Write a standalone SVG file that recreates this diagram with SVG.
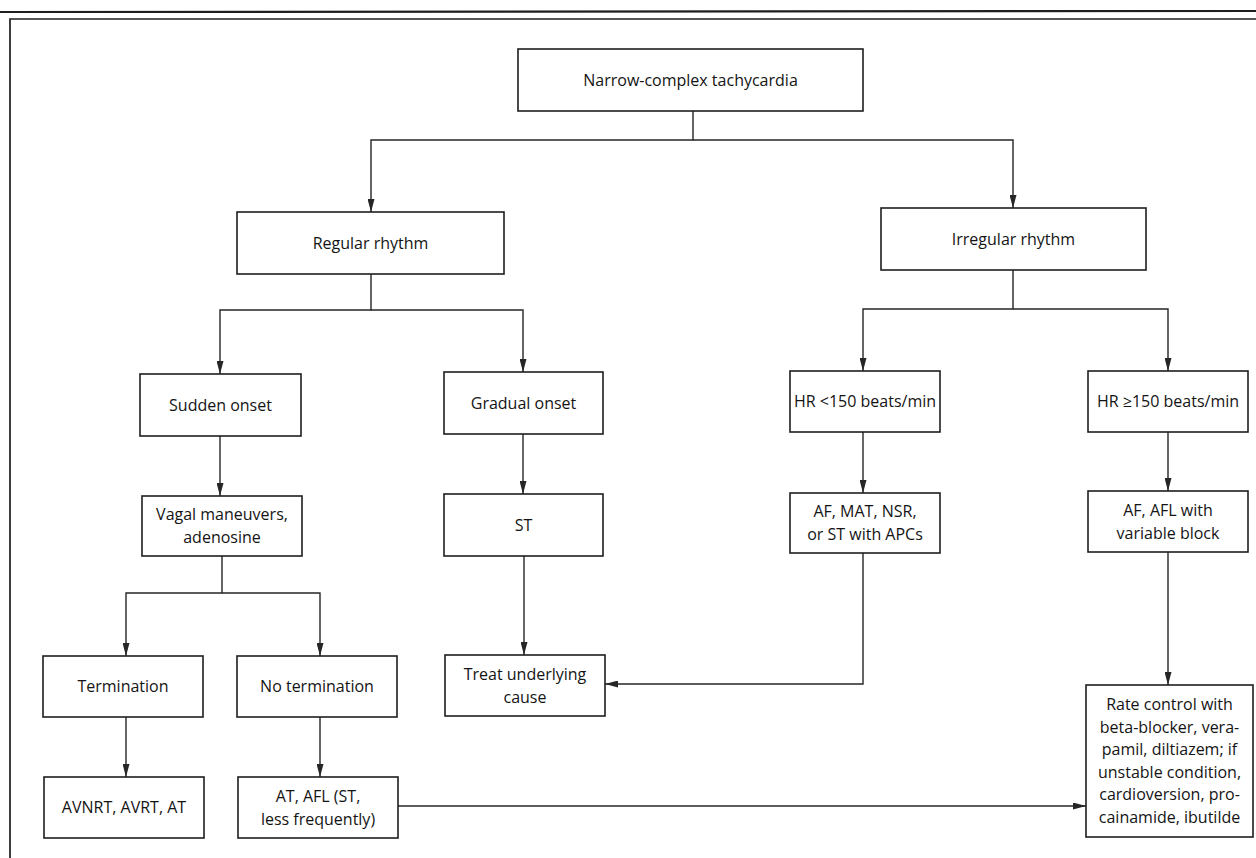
<svg xmlns="http://www.w3.org/2000/svg" width="1256" height="858" viewBox="0 0 1256 858">
<defs>
<style>
.box{fill:#fff;stroke:#1e1e1e;stroke-width:1.6}
.t{font-family:"Open Sans","Noto Sans",sans-serif;font-size:16px;fill:#141414;text-anchor:middle}
.c{fill:none;stroke:#262626;stroke-width:1.4}
.frame{fill:none;stroke:#1e1e1e;stroke-width:1.7}
</style>
<marker id="ah" markerUnits="userSpaceOnUse" markerWidth="13" markerHeight="7" refX="13" refY="3.5" orient="auto" viewBox="0 0 13 7">
<path d="M0,0 L13,3.5 L0,7 z" fill="#262626"/>
</marker>
</defs>
<rect width="1256" height="858" fill="#fff"/>
<line x1="0" y1="12" x2="1256" y2="11" stroke="#1e1e1e" stroke-width="2.2"/>
<path class="frame" d="M10,860 V19 H1258"/>

<g id="connectors">
<path class="c" d="M693,111 V140 H371 V212" marker-end="url(#ah)"/>
<path class="c" d="M693,140 H1013 V208" marker-end="url(#ah)"/>
<path class="c" d="M371,274 V310 H220 V374" marker-end="url(#ah)"/>
<path class="c" d="M371,310 H523 V372" marker-end="url(#ah)"/>
<path class="c" d="M1013,270 V309 H863 V371" marker-end="url(#ah)"/>
<path class="c" d="M1013,309 H1168 V371" marker-end="url(#ah)"/>
<path class="c" d="M220,436 V496" marker-end="url(#ah)"/>
<path class="c" d="M523,434 V494" marker-end="url(#ah)"/>
<path class="c" d="M863,432 V493" marker-end="url(#ah)"/>
<path class="c" d="M1168,432 V491" marker-end="url(#ah)"/>
<path class="c" d="M222,556 V593 H126 V656" marker-end="url(#ah)"/>
<path class="c" d="M222,593 H320 V656" marker-end="url(#ah)"/>
<path class="c" d="M524,556 V655" marker-end="url(#ah)"/>
<path class="c" d="M863,553 V684 H605" marker-end="url(#ah)"/>
<path class="c" d="M1168,552 V685" marker-end="url(#ah)"/>
<path class="c" d="M126,717 V777" marker-end="url(#ah)"/>
<path class="c" d="M320,717 V777" marker-end="url(#ah)"/>
<path class="c" d="M398,806 H1086" marker-end="url(#ah)"/>
</g>

<g id="narrow"><rect class="box" x="518" y="49" width="345" height="62"/><text class="t" x="690.5" y="85.5">Narrow-complex tachycardia</text></g>
<g id="regular"><rect class="box" x="237" y="212" width="267" height="62"/><text class="t" x="370.5" y="248.5">Regular rhythm</text></g>
<g id="irregular"><rect class="box" x="881" y="208" width="265" height="62"/><text class="t" x="1013.5" y="244.5">Irregular rhythm</text></g>

<g id="sudden"><rect class="box" x="140" y="374" width="161" height="62"/><text class="t" x="220.5" y="410.5">Sudden onset</text></g>
<g id="gradual"><rect class="box" x="444" y="372" width="159" height="62"/><text class="t" x="523.5" y="408.5">Gradual onset</text></g>
<g id="hrlow"><rect class="box" x="790" y="371" width="150" height="61"/><text class="t" x="865" y="407">HR &lt;150 beats/min</text></g>
<g id="hrhigh"><rect class="box" x="1088" y="371" width="160" height="61"/><text class="t" x="1168" y="407">HR ≥150 beats/min</text></g>

<g id="vagal"><rect class="box" x="142" y="496" width="160" height="60"/><text class="t" x="222" y="520">Vagal maneuvers,</text><text class="t" x="222" y="543">adenosine</text></g>
<g id="st"><rect class="box" x="444" y="494" width="159" height="62"/><text class="t" x="523.5" y="530.5">ST</text></g>
<g id="afmat"><rect class="box" x="790" y="493" width="150" height="60"/><text class="t" x="865" y="517">AF, MAT, NSR,</text><text class="t" x="865" y="540">or ST with APCs</text></g>
<g id="afafl"><rect class="box" x="1088" y="491" width="160" height="61"/><text class="t" x="1168" y="515.5">AF, AFL with</text><text class="t" x="1168" y="538.5">variable block</text></g>

<g id="termination"><rect class="box" x="43" y="656" width="160" height="61"/><text class="t" x="123" y="692">Termination</text></g>
<g id="notermination"><rect class="box" x="237" y="656" width="160" height="61"/><text class="t" x="317" y="692">No termination</text></g>
<g id="treat"><rect class="box" x="445" y="655" width="160" height="61"/><text class="t" x="525" y="679.5">Treat underlying</text><text class="t" x="525" y="702.5">cause</text></g>

<g id="avnrt"><rect class="box" x="44" y="777" width="160" height="61"/><text class="t" x="124" y="813">AVNRT, AVRT, AT</text></g>
<g id="atafl"><rect class="box" x="238" y="777" width="160" height="61"/><text class="t" x="318" y="801.5">AT, AFL (ST,</text><text class="t" x="318" y="824.5">less frequently)</text></g>

<g id="rate"><rect class="box" x="1086" y="685" width="167" height="152"/>
<text class="t" x="1169.5" y="710">Rate control with</text>
<text class="t" x="1169.5" y="732.5">beta-blocker, vera-</text>
<text class="t" x="1169.5" y="755">pamil, diltiazem; if</text>
<text class="t" x="1169.5" y="777.5">unstable condition,</text>
<text class="t" x="1169.5" y="800">cardioversion, pro-</text>
<text class="t" x="1169.5" y="822.5">cainamide, ibutilde</text>
</g>
</svg>
